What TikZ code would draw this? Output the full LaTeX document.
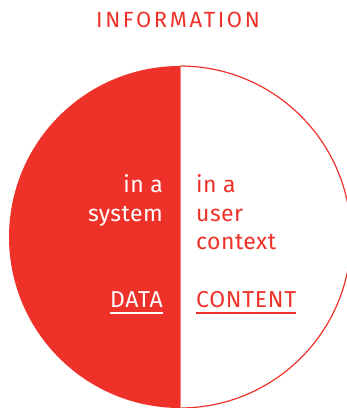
\documentclass[tikz,border=0pt]{standalone}
\usepackage{fontspec}
\setmainfont{Fira Sans}
\newfontfamily\titlefont{Fira Sans}[LetterSpace=12]
\newfontfamily\capsfont{Fira Sans}[LetterSpace=3]
\newfontfamily\wordfont{Fira Sans}[LetterSpace=2]
\definecolor{infored}{HTML}{EF3229}
\definecolor{divline}{HTML}{F6857F}

\begin{document}
\begin{tikzpicture}[x=1pt, y=1pt,
    word/.style={inner sep=0pt, font=\wordfont\fontsize{23}{27}\selectfont},
    keyword/.style={word, font=\capsfont\fontsize{23}{27}\selectfont}]
    \useasboundingbox (0,0) rectangle (347,408);
    \clip (0,0) rectangle (347,408);

    % the two halves
    \fill[infored] (180,342) arc[start angle=90, end angle=270, radius=171] -- cycle;
    \draw[infored, line width=1.2pt] (180,342) arc[start angle=90, end angle=-90, radius=171];
    \draw[divline, line width=1.6pt] (180.5,342) -- (180.5,0);

    \node[inner sep=0pt, text=infored, font=\titlefont\fontsize{22}{26}\selectfont, anchor=base] (info) at (178,380) {INFORMATION};

    % left half
    \node[word, text=white, anchor=base east] (sysa) at (163,215) {in a};
    \node[word, text=white, anchor=base east] (sysb) at (163,186) {system};
    \node[keyword, text=white, anchor=base east] (data) at (163,100) {DATA};
    \draw[white, line width=1.6pt] ([yshift=-5pt]data.base west) -- ([yshift=-5pt]data.base east);

    % right half
    \node[word, text=infored, anchor=base west] (usra) at (196,215) {in a};
    \node[word, text=infored, anchor=base west] (usrb) at (196,186) {user};
    \node[word, text=infored, anchor=base west] (usrc) at (196,158) {context};
    \node[keyword, text=infored, anchor=base west] (content) at (196,100) {CONTENT};
    \draw[infored, line width=1.6pt] ([yshift=-5pt]content.base west) -- ([yshift=-5pt]content.base east);
\end{tikzpicture}
\end{document}
